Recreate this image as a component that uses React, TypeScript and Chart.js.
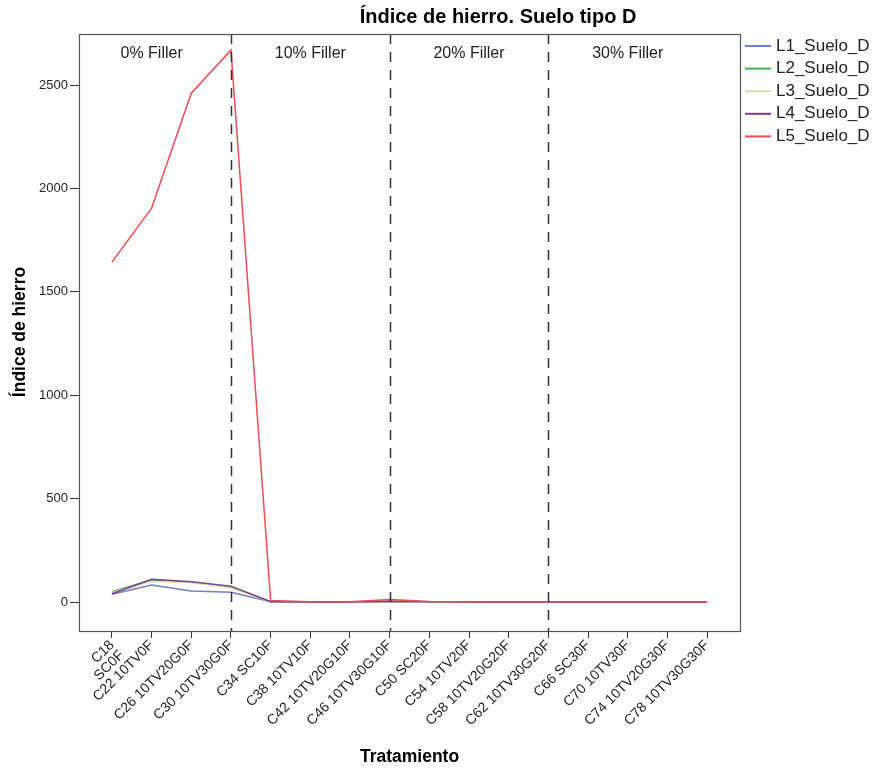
import React, { useEffect, useRef } from "react";
import { Chart, registerables } from "chart.js";

Chart.register(...registerables);

const categories: (string | string[])[] = [
  ["C18", "SC0F"], "C22 10TV0F", "C26 10TV20G0F", "C30 10TV30G0F",
  "C34 SC10F", "C38 10TV10F", "C42 10TV20G10F", "C46 10TV30G10F",
  "C50 SC20F", "C54 10TV20F", "C58 10TV20G20F", "C62 10TV30G20F",
  "C66 SC30F", "C70 10TV30F", "C74 10TV20G30F", "C78 10TV30G30F",
];

const seriesNames = ["L1_Suelo_D", "L2_Suelo_D", "L3_Suelo_D", "L4_Suelo_D", "L5_Suelo_D"];
const L1 = [38, 82, 53, 47, 1, 0, 0, 2, 1, 0, 0, 0, 0, 0, 0, 0];
const L2 = [50, 106, 96, 73, 2, 0, 0, 3, 1, 0, 0, 0, 0, 0, 0, 0];
const L3 = [46, 100, 94, 68, 2, 0, 0, 3, 1, 0, 0, 0, 0, 0, 0, 0];
const L4 = [40, 110, 98, 77, 2, 0, 0, 4, 1, 0, 0, 0, 0, 0, 0, 0];
const L5 = [1644, 1905, 2461, 2669, 8, 2, 2, 12, 3, 2, 2, 2, 2, 2, 2, 2];
const seriesValues = [L1, L2, L3, L4, L5];
const seriesColors = ["#6f7fcc", "#3cae4a", "#dcdcaa", "#7d3f8e", "#ef4b55"];

const yTicks = [0, 500, 1000, 1500, 2000, 2500];
const dividerIndices = [3, 7, 11];
const groupLabels = ["0% Filler", "10% Filler", "20% Filler", "30% Filler"];
const groupLabelIndices = [1, 5, 9, 13];

const title = "Índice de hierro. Suelo tipo D";
const xTitle = "Tratamiento";
const yTitle = "Índice de hierro";

const FONT = "'Liberation Sans', Arial, sans-serif";

export default function App() {
  const ref = useRef<HTMLCanvasElement | null>(null);

  useEffect(() => {
    if (!ref.current) return;
    const overlay = {
      id: "overlay",
      afterDatasetsDraw(chart: any) {
        const ctx = chart.ctx;
        const { left, right, top, bottom } = chart.chartArea;
        const xs = chart.scales.x;
        ctx.save();
        // dashed dividers
        ctx.strokeStyle = "#333";
        ctx.lineWidth = 1.5;
        ctx.setLineDash([10, 8]);
        dividerIndices.forEach((i) => {
          const px = Math.round(xs.getPixelForValue(i)) + 0.5;
          ctx.beginPath();
          ctx.moveTo(px, top);
          ctx.lineTo(px, bottom);
          ctx.stroke();
        });
        ctx.setLineDash([]);
        // box
        ctx.strokeStyle = "#555";
        ctx.lineWidth = 1.2;
        ctx.strokeRect(left + 0.5, top + 0.5, right - left, bottom - top);
        // group labels
        ctx.fillStyle = "#222";
        ctx.font = `16px ${FONT}`;
        ctx.textAlign = "center";
        ctx.textBaseline = "middle";
        groupLabels.forEach((t, k) => {
          ctx.fillText(t, xs.getPixelForValue(groupLabelIndices[k]), 54);
        });
        // title
        ctx.fillStyle = "#000";
        ctx.font = `bold 20px ${FONT}`;
        ctx.fillText(title, 498, 17);
        // x title
        ctx.font = `bold 17.5px ${FONT}`;
        ctx.fillText(xTitle, (left + right) / 2, 757);
        // y title
        ctx.save();
        ctx.translate(20, 332);
        ctx.rotate(-Math.PI / 2);
        ctx.font = `bold 17.5px ${FONT}`;
        ctx.fillText(yTitle, 0, 0);
        ctx.restore();
        // legend
        ctx.textAlign = "left";
        ctx.font = `17px ${FONT}`;
        seriesNames.forEach((n, i) => {
          const y = 46 + i * 22.6;
          ctx.strokeStyle = seriesColors[i];
          ctx.lineWidth = 2;
          ctx.beginPath();
          ctx.moveTo(745, y);
          ctx.lineTo(771, y);
          ctx.stroke();
          ctx.fillStyle = "#222";
          ctx.fillText(n, 776, y);
        });
        ctx.restore();
      },
    };

    const chart = new Chart(ref.current, {
      type: "line",
      data: {
        datasets: seriesValues.map((vals, i) => ({
          label: seriesNames[i],
          data: vals.map((v, j) => ({ x: j, y: v })),
          borderColor: seriesColors[i],
          backgroundColor: seriesColors[i],
          borderWidth: 1.5,
          pointRadius: 0,
          tension: 0,
          order: seriesValues.length - i,
        })),
      },
      options: {
        animation: false,
        responsive: false,
        maintainAspectRatio: false,
        layout: { padding: { left: 0, right: 135, top: 34, bottom: 0 } },
        plugins: { legend: { display: false }, tooltip: { enabled: false }, title: { display: false } },
        scales: {
          x: {
            type: "linear",
            min: -0.83,
            max: 15.83,
            afterFit: (s: any) => { s.height = 138; },
            afterBuildTicks: (s: any) => { s.ticks = categories.map((_, i) => ({ value: i })); },
            grid: { drawOnChartArea: false, drawTicks: true, tickLength: 7, color: "#333" },
            border: { display: true, color: "#333" },
            ticks: {
              autoSkip: false,
              maxRotation: 45,
              minRotation: 45,
              padding: 0,
              color: "#222",
              font: { family: FONT, size: 14, lineHeight: 1.0 },
              callback: (v: any) => categories[Math.round(v)] as any,
            },
          },
          y: {
            type: "linear",
            min: -140,
            max: 2747,
            afterFit: (s: any) => { s.width = 79; },
            afterBuildTicks: (s: any) => { s.ticks = yTicks.map((v) => ({ value: v })); },
            grid: { drawOnChartArea: false, drawTicks: true, tickLength: 9, color: "#333" },
            border: { display: true, color: "#333" },
            ticks: {
              padding: 2,
              color: "#222",
              font: { family: FONT, size: 13 },
              callback: (v: any) => String(v),
            },
          },
        },
      },
      plugins: [overlay],
    } as any);
    return () => chart.destroy();
  }, []);

  return (
    <div style={{ position: "fixed", left: 0, top: 0, width: 875, height: 769, background: "#fff" }}>
      <canvas ref={ref} width={875} height={769} style={{ width: 875, height: 769 }} />
    </div>
  );
}
